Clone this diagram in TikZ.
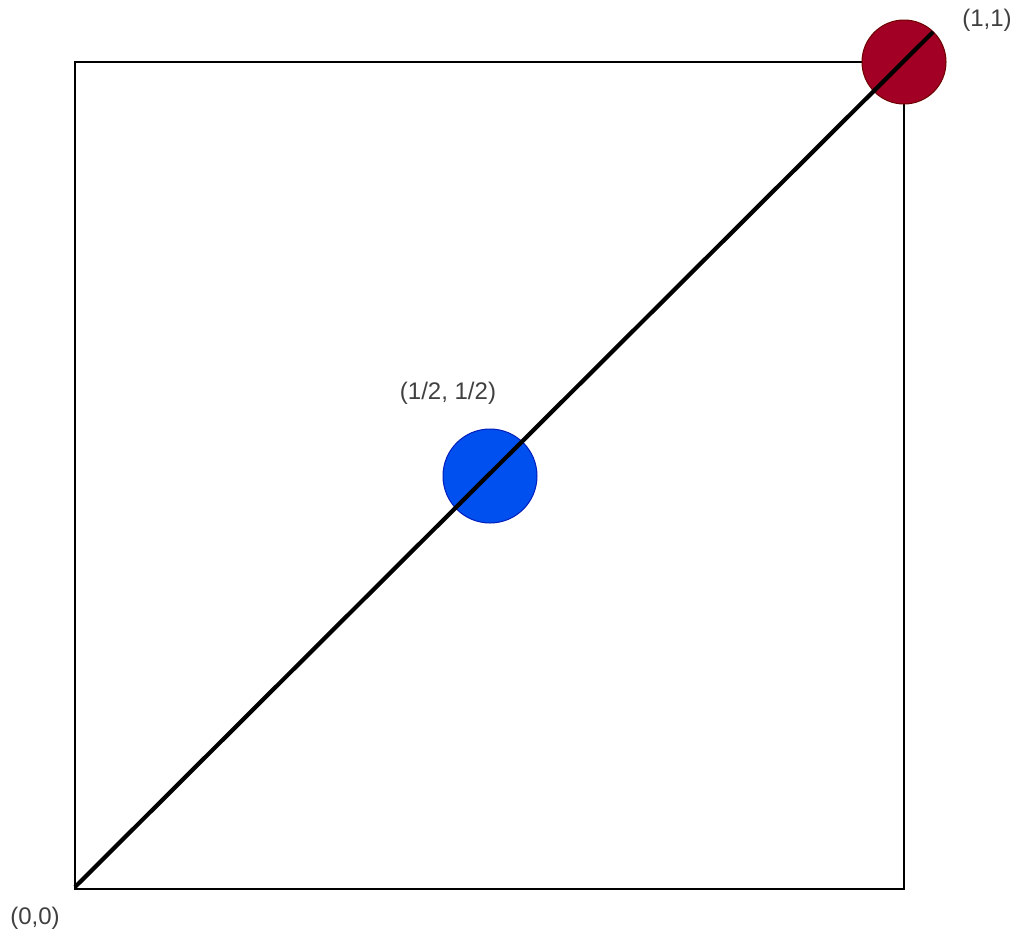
\documentclass[tikz,border=0pt]{standalone}
\usepackage{fontspec}
\setmainfont{Liberation Sans}
\definecolor{redfill}{HTML}{A20025}
\definecolor{redline}{HTML}{6F0000}
\definecolor{bluefill}{HTML}{0050EF}
\definecolor{blueline}{HTML}{001DBC}
\definecolor{txt}{HTML}{404040}
\begin{document}
\begin{tikzpicture}[x=1pt,y=-1pt,
  lbl/.style={text=txt,font=\fontsize{24}{28}\selectfont,inner sep=0pt},
  dot/.style={circle,inner sep=0pt,line width=1pt}]
\useasboundingbox (0,0) rectangle (1017,935);
\node[draw=black,line width=1.4pt,minimum width=829pt,minimum height=827pt,inner sep=0pt] (sq) at (489.5,475.5) {};
\node[dot,draw=redline,fill=redfill,minimum size=84pt] (red) at (904,62) {};
\node[dot,draw=blueline,fill=bluefill,minimum size=94pt] (blue) at (490,476) {};
\coordinate (o) at (75,887);
\coordinate (e) at (933,32);
\draw[line width=4.2pt] (o) -- (e);
\node[lbl] (l11) at (987,20) {(1,1)};
\node[lbl] (lhalf) at (448,393) {(1/2, 1/2)};
\node[lbl] (l00) at (35,918) {(0,0)};
\end{tikzpicture}
\end{document}
